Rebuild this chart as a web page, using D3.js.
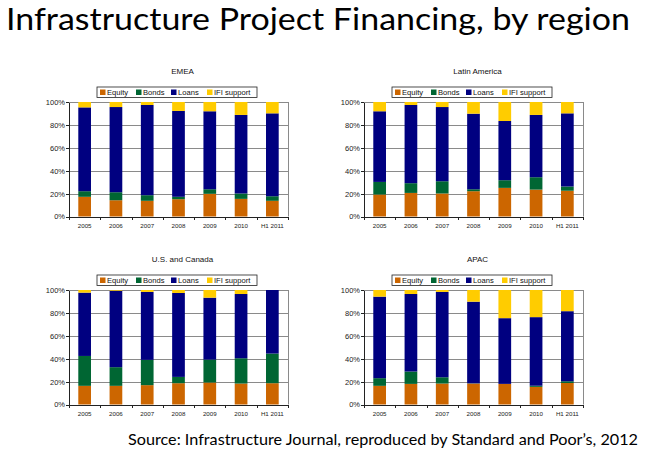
<!DOCTYPE html>
<html>
<head>
<meta charset="utf-8">
<script src="https://cdn.jsdelivr.net/npm/d3@7"></script>
<style>
  body { margin: 0; background: #fff; }
  svg { display: block; }
  .axis text { font-family: "Liberation Sans", Arial, sans-serif; fill: #222; }
  .axis path, .axis line { stroke: #222; shape-rendering: crispEdges; }
</style>
</head>
<body>
<script>
//page size
var w = 646, h = 457;

//categories and series
var years = ["2005", "2006", "2007", "2008", "2009", "2010", "H1 2011"];
var seriesNames = ["Equity", "Bonds", "Loans", "IFI support"];
var seriesColors = ["#cc6600", "#006633", "#000080", "#ffcc00"];
var regions = ["EMEA", "Latin America", "U.S. and Canada", "APAC"];
var yTicks = [0, 0.2, 0.4, 0.6, 0.8, 1];

//shares in percent
var emeaEquity = [17.2, 14.2, 13.7, 15.1, 19.8, 15.4, 13.7];
var emeaBonds  = [4.9, 7.0, 4.9, 2.1, 4.0, 4.7, 4.0];
var emeaLoans  = [73.2, 74.4, 78.8, 75.0, 68.1, 68.6, 72.4];
var emeaIfi    = [4.7, 4.4, 2.6, 7.8, 8.1, 11.3, 9.9];

var latamEquity = [19.2, 20.6, 20.1, 22.1, 25.0, 23.5, 22.5];
var latamBonds  = [11.0, 8.5, 10.7, 1.7, 6.7, 10.8, 3.7];
var latamLoans  = [61.7, 68.3, 64.8, 66.0, 51.7, 54.4, 63.9];
var latamIfi    = [8.1, 2.6, 4.4, 10.2, 16.6, 11.3, 9.9];

var usEquity = [16.3, 16.3, 16.9, 18.6, 19.2, 18.3, 18.6];
var usBonds  = [26.1, 16.3, 22.1, 5.5, 20.0, 22.1, 25.9];
var usLoans  = [55.3, 66.8, 59.3, 73.3, 54.1, 56.1, 55.5];
var usIfi    = [2.3, 0.6, 1.7, 2.6, 6.7, 3.5, 0];

var apacEquity = [16.3, 18.0, 18.3, 18.3, 18.0, 15.4, 18.8];
var apacBonds  = [6.7, 10.8, 5.5, 0.2, 0, 1.0, 1.5];
var apacLoans  = [71.2, 67.7, 74.5, 71.3, 57.4, 59.9, 61.2];
var apacIfi    = [5.8, 3.5, 1.7, 10.2, 24.6, 23.7, 18.5];

var regionData = [
    [emeaEquity, emeaBonds, emeaLoans, emeaIfi],
    [latamEquity, latamBonds, latamLoans, latamIfi],
    [usEquity, usBonds, usLoans, usIfi],
    [apacEquity, apacBonds, apacLoans, apacIfi]
];

window.onload = function(){

    var svg = d3.select("body")
        .append("svg")
        .attr("width", w)
        .attr("height", h);

    //main title
    svg.append("text")
        .attr("x", 6)
        .attr("y", 30)
        .attr("textLength", 624)
        .attr("lengthAdjust", "spacingAndGlyphs")
        .style("font-family", "Lato, 'Open Sans', sans-serif")
        .style("font-size", "31px")
        .style("fill", "#000")
        .text("Infrastructure Project Financing, by region");

    //source line
    svg.append("text")
        .attr("x", 128)
        .attr("y", 445)
        .attr("textLength", 510)
        .attr("lengthAdjust", "spacingAndGlyphs")
        .style("font-family", "Lato, 'Open Sans', sans-serif")
        .style("font-size", "15px")
        .style("fill", "#000")
        .text("Source: Infrastructure Journal, reproduced by Standard and Poor\u2019s, 2012");

    //panel plot areas (left, top)
    var plotW = 219, plotH = 114.5;
    var lefts = [69, 364, 69, 364];
    var tops = [102, 102, 290, 290];

    regions.forEach(function(name, r){
        var g = svg.append("g")
            .attr("transform", "translate(" + lefts[r] + "," + tops[r] + ")");

        var x = d3.scaleBand()
            .domain(years)
            .range([0, plotW])
            .paddingInner(0.594)
            .paddingOuter(0.297);

        var y = d3.scaleLinear()
            .domain([0, 1])
            .range([plotH, 0]);

        //gridlines
        g.selectAll(".grid")
            .data(yTicks.slice(1))
            .enter()
            .append("line")
            .attr("x1", 0)
            .attr("x2", plotW)
            .attr("y1", function(d){ return Math.round(y(d)) + 0.5; })
            .attr("y2", function(d){ return Math.round(y(d)) + 0.5; })
            .style("stroke", "#8a8a8a")
            .style("stroke-width", 1);

        //right border
        g.append("line")
            .attr("x1", plotW + 0.5).attr("x2", plotW + 0.5)
            .attr("y1", 0).attr("y2", plotH)
            .style("stroke", "#8a8a8a");

        //stack the segments
        var cols = years.map(function(yr, i){
            var row = { year: yr };
            seriesNames.forEach(function(s, k){ row[s] = regionData[r][k][i] / 100; });
            return row;
        });
        var stacked = d3.stack().keys(seriesNames)(cols);

        g.selectAll(".series")
            .data(stacked)
            .enter()
            .append("g")
            .style("fill", function(d, k){ return seriesColors[k]; })
            .selectAll("rect")
            .data(function(d){ return d; })
            .enter()
            .append("rect")
            .attr("x", function(d){ return x(d.data.year); })
            .attr("width", x.bandwidth())
            .attr("y", function(d){ return y(d[1]); })
            .attr("height", function(d){ return y(d[0]) - y(d[1]); });

        //y axis
        g.append("g")
            .attr("class", "axis")
            .call(d3.axisLeft(y).tickValues(yTicks).tickFormat(d3.format(".0%")).tickSize(3).tickSizeOuter(0))
            .selectAll("text")
            .style("font-size", "7.5px")
            .attr("x", -4);

        //x axis with ticks on category boundaries
        var xAxis = g.append("g")
            .attr("class", "axis")
            .attr("transform", "translate(0," + plotH + ")");
        xAxis.append("line")
            .attr("x1", 0).attr("x2", plotW)
            .attr("y1", 0.5).attr("y2", 0.5);
        xAxis.selectAll(".tk")
            .data(d3.range(years.length + 1))
            .enter()
            .append("line")
            .attr("x1", function(i){ return Math.round(i * x.step()) + 0.5; })
            .attr("x2", function(i){ return Math.round(i * x.step()) + 0.5; })
            .attr("y1", 0).attr("y2", 3);
        xAxis.selectAll(".lbl")
            .data(years)
            .enter()
            .append("text")
            .attr("x", function(d){ return x(d) + x.bandwidth() / 2; })
            .attr("y", 11)
            .attr("text-anchor", "middle")
            .style("font-size", "6.2px")
            .text(function(d){ return d; });

        //panel title
        g.append("text")
            .attr("x", plotW / 2 + 4)
            .attr("y", -28)
            .attr("text-anchor", "middle")
            .style("font-family", "'Liberation Sans', Arial, sans-serif")
            .style("font-size", "8px")
            .style("fill", "#111")
            .text(name);

        //legend box
        var leg = g.append("g")
            .attr("transform", "translate(" + (plotW / 2 - 81.5) + "," + (-15) + ")");
        leg.append("rect")
            .attr("width", 160)
            .attr("height", 10.5)
            .style("fill", "#fff")
            .style("stroke", "#222")
            .style("stroke-width", 0.8);
        var itemX = [3, 39, 74, 110];
        seriesNames.forEach(function(s, k){
            leg.append("rect")
                .attr("x", itemX[k])
                .attr("y", 2.5)
                .attr("width", 5.5)
                .attr("height", 5.5)
                .style("fill", seriesColors[k]);
            leg.append("text")
                .attr("x", itemX[k] + 7)
                .attr("y", 8)
                .style("font-family", "'Liberation Sans', Arial, sans-serif")
                .style("font-size", "7.6px")
                .style("fill", "#111")
                .text(s);
        });
    });
};
</script>
</body>
</html>
